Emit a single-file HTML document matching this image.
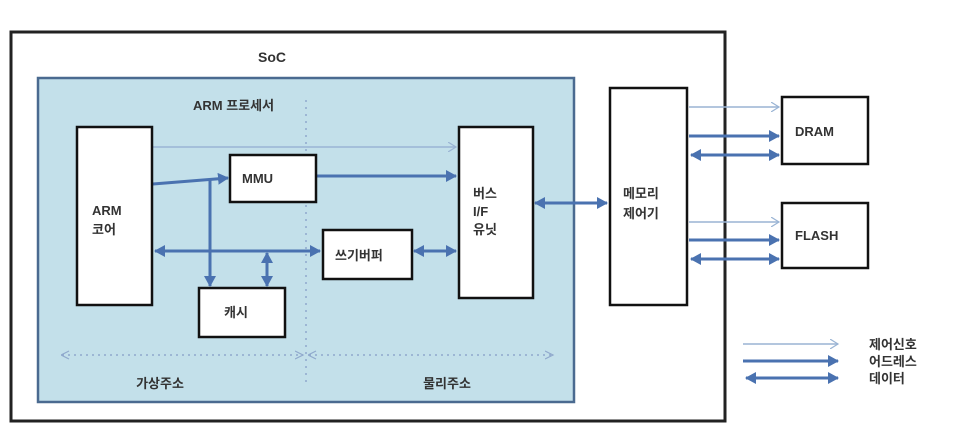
<!DOCTYPE html>
<html><head><meta charset="utf-8"><style>
html,body{margin:0;padding:0;background:#fff;}
svg{display:block;}
text{font-family:"Liberation Sans","Noto Sans CJK KR","NanumGothic",sans-serif;font-weight:bold;fill:#333;}
</style></head><body>
<svg width="958" height="436" viewBox="0 0 958 436" xmlns="http://www.w3.org/2000/svg">
<defs>
<marker id="a" markerWidth="12" markerHeight="12" refX="10" refY="6" orient="auto" markerUnits="userSpaceOnUse"><path d="M0,0 L11,6 L0,12 Z" fill="#4a72b0"/></marker>
<marker id="as" markerWidth="12" markerHeight="12" refX="1" refY="6" orient="auto" markerUnits="userSpaceOnUse"><path d="M11,0 L0,6 L11,12 Z" fill="#4a72b0"/></marker>
<marker id="t" markerWidth="10" markerHeight="10" refX="8" refY="5" orient="auto" markerUnits="userSpaceOnUse"><path d="M0,0 L8,5 L0,10" fill="none" stroke="#9ab4d4" stroke-width="1.2"/></marker>
<marker id="d" markerWidth="10" markerHeight="10" refX="8" refY="5" orient="auto" markerUnits="userSpaceOnUse"><path d="M0,1 L8,5 L0,9" fill="none" stroke="#8fa8cc" stroke-width="1.2"/></marker>
<marker id="ds" markerWidth="10" markerHeight="10" refX="1" refY="5" orient="auto" markerUnits="userSpaceOnUse"><path d="M8,1 L0,5 L8,9" fill="none" stroke="#8fa8cc" stroke-width="1.2"/></marker>
</defs>
<rect x="11" y="32" width="714" height="389" fill="#fff" stroke="#222" stroke-width="3"/>
<text x="258" y="62" font-size="14">SoC</text>
<rect x="38" y="78" width="536" height="324" fill="#c3e0ea" stroke="#4a6a90" stroke-width="2.5"/>
<text x="193" y="110" font-size="13">ARM 프로세서</text>
<line x1="306" y1="100" x2="306" y2="385" stroke="#8fa8cc" stroke-width="1.5" stroke-dasharray="2,5"/>
<line x1="62" y1="355" x2="303" y2="355" stroke="#8fa8cc" stroke-width="1.5" stroke-dasharray="2,4" marker-start="url(#ds)" marker-end="url(#d)"/>
<line x1="309" y1="355" x2="553" y2="355" stroke="#8fa8cc" stroke-width="1.5" stroke-dasharray="2,4" marker-start="url(#ds)" marker-end="url(#d)"/>
<text x="160" y="388" font-size="13" text-anchor="middle">가상주소</text>
<text x="447" y="388" font-size="13" text-anchor="middle">물리주소</text>
<g stroke="#4a72b0" stroke-width="3" fill="none">
<line x1="153" y1="147" x2="456" y2="147" stroke="#9ab4d4" stroke-width="1.5" marker-end="url(#t)"/>
<line x1="153" y1="184" x2="228" y2="178" marker-end="url(#a)"/>
<line x1="316" y1="176" x2="456" y2="176" marker-end="url(#a)"/>
<line x1="210" y1="180" x2="210" y2="286" marker-end="url(#a)"/>
<line x1="155" y1="251" x2="320" y2="251" marker-start="url(#as)" marker-end="url(#a)"/>
<line x1="267" y1="253" x2="267" y2="286" marker-start="url(#as)" marker-end="url(#a)"/>
<line x1="414" y1="251" x2="456" y2="251" marker-start="url(#as)" marker-end="url(#a)"/>
<line x1="535" y1="203" x2="607" y2="203" marker-start="url(#as)" marker-end="url(#a)"/>
<line x1="689" y1="107" x2="779" y2="107" stroke="#9ab4d4" stroke-width="1.5" marker-end="url(#t)"/>
<line x1="689" y1="136" x2="779" y2="136" marker-end="url(#a)"/>
<line x1="691" y1="155" x2="779" y2="155" marker-start="url(#as)" marker-end="url(#a)"/>
<line x1="689" y1="222" x2="779" y2="222" stroke="#9ab4d4" stroke-width="1.5" marker-end="url(#t)"/>
<line x1="689" y1="240" x2="779" y2="240" marker-end="url(#a)"/>
<line x1="691" y1="259" x2="779" y2="259" marker-start="url(#as)" marker-end="url(#a)"/>
<line x1="743" y1="344" x2="838" y2="344" stroke="#9ab4d4" stroke-width="1.5" marker-end="url(#t)"/>
<line x1="743" y1="361" x2="838" y2="361" marker-end="url(#a)"/>
<line x1="746" y1="378" x2="838" y2="378" marker-start="url(#as)" marker-end="url(#a)"/>
</g>
<g fill="#fff" stroke="#111" stroke-width="2.5">
<rect x="77" y="127" width="75" height="178"/>
<rect x="230" y="155" width="86" height="47"/>
<rect x="199" y="288" width="86" height="49"/>
<rect x="323" y="230" width="89" height="49"/>
<rect x="459" y="127" width="74" height="171"/>
<rect x="610" y="88" width="77" height="217"/>
<rect x="782" y="97" width="86" height="67"/>
<rect x="782" y="203" width="86" height="65"/>
</g>
<g font-size="13">
<text x="92" y="215">ARM</text>
<text x="92" y="234">코어</text>
<text x="242" y="183">MMU</text>
<text x="224" y="317">캐시</text>
<text x="335" y="260">쓰기버퍼</text>
<text x="473" y="198">버스</text>
<text x="473" y="216">I/F</text>
<text x="473" y="234">유닛</text>
<text x="623" y="198">메모리</text>
<text x="623" y="218">제어기</text>
<text x="795" y="136">DRAM</text>
<text x="795" y="240">FLASH</text>
<text x="869" y="349">제어신호</text>
<text x="869" y="366">어드레스</text>
<text x="869" y="383">데이터</text>
</g>
</svg>
</body></html>
